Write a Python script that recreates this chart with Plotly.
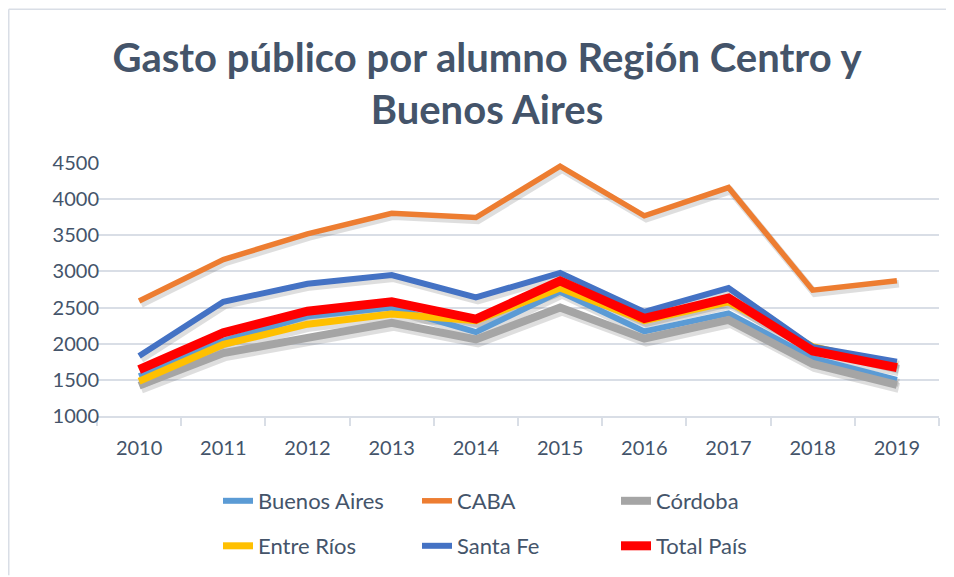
import plotly.graph_objects as go

years = ["2010", "2011", "2012", "2013", "2014", "2015", "2016", "2017", "2018", "2019"]

buenos_aires = [1550, 2040, 2380, 2500, 2160, 2720, 2170, 2420, 1800, 1500]
caba = [2590, 3165, 3520, 3805, 3745, 4455, 3770, 4160, 2740, 2870]
cordoba = [1420, 1870, 2080, 2290, 2060, 2500, 2070, 2330, 1720, 1430]
entre_rios = [1480, 1990, 2270, 2410, 2320, 2770, 2320, 2580, 1960, 1690]
santa_fe = [1830, 2580, 2830, 2950, 2640, 2980, 2440, 2770, 1955, 1750]
total_pais = [1640, 2150, 2450, 2580, 2340, 2870, 2350, 2630, 1900, 1670]

series = [
    ("Buenos Aires", buenos_aires, "#5B9BD5", 6, "legend"),
    ("CABA", caba, "#ED7D31", 5.5, "legend"),
    ("Córdoba", cordoba, "#A5A5A5", 8, "legend"),
    ("Entre Ríos", entre_rios, "#FFC000", 7, "legend2"),
    ("Santa Fe", santa_fe, "#4472C4", 6, "legend2"),
    ("Total País", total_pais, "#FF0000", 9, "legend2"),
]

TEXT = "#44546A"
GRID = "#D9DEE6"
FONT = "Lato"
OFF = 8  # page body margin
W, H = 954 - OFF, 577 - OFF
L, R, T, B = 97 - OFF, 15, 163 - OFF, 160
PW, PH = W - L - R, H - T - B
YMIN, YMAX = 1000, 4500
N = len(years)

# shadow offset (pixels) expressed in axis units
SH_DX, SH_DY = 2, 3
dx = SH_DX * N / PW
dy = SH_DY * (YMAX - YMIN) / PH


def px_x(p):
    return (p - OFF - L) / PW


def px_y(p):
    return (H - B - (p - OFF)) / PH


fig = go.Figure()
# shadows (subplot 2)
for name, vals, color, width, leg in series:
    fig.add_trace(go.Scatter(
        x=years, y=vals, mode="lines", showlegend=False, hoverinfo="skip",
        line=dict(color="rgba(0,0,0,0.13)", width=width + 2),
        xaxis="x2", yaxis="y2",
    ))
# real lines (subplot 3)
for name, vals, color, width, leg in series:
    fig.add_trace(go.Scatter(
        x=years, y=vals, name=name, mode="lines",
        line=dict(color=color, width=width),
        legend=leg, xaxis="x3", yaxis="y3",
    ))
# invisible trace on the main axes so they render
fig.add_trace(go.Scatter(x=years, y=[None] * N, showlegend=False, hoverinfo="skip"))

hidden = dict(visible=False, showgrid=False, zeroline=False)

fig.update_layout(
    width=W, height=H,
    margin=dict(l=L, r=R, t=T, b=B),
    paper_bgcolor="white", plot_bgcolor="white",
    font=dict(family=FONT, color=TEXT, size=20),
    title=dict(
        text="<b>Gasto público por alumno Región Centro y<br>Buenos Aires</b>",
        x=(487 - OFF) / W, xanchor="center", xref="container",
        y=1 - (72 - OFF) / H, yanchor="middle", yref="container",
        font=dict(family=FONT, size=40, color=TEXT),
    ),
    xaxis=dict(
        type="category", tickson="boundaries", ticks="outside", ticklen=8,
        tickcolor=GRID, tickwidth=1.5,
        showline=True, linecolor=GRID, linewidth=1.5,
        showgrid=False, tickfont=dict(size=20, color=TEXT),
        range=[-0.5, N - 0.5], ticklabelstandoff=13,
    ),
    yaxis=dict(
        range=[YMIN, YMAX], tickvals=[1000, 1500, 2000, 2500, 3000, 3500, 4000, 4500],
        showgrid=True, gridcolor=GRID, gridwidth=1.5,
        zeroline=False, showline=False, ticks="",
        ticklabelstandoff=-3, tickfont=dict(size=20, color=TEXT),
    ),
    xaxis2=dict(type="category", range=[-0.5 - dx, N - 0.5 - dx], anchor="y2", overlaying="x", **hidden),
    yaxis2=dict(range=[YMIN + dy, YMAX + dy], anchor="x2", overlaying="y", **hidden),
    xaxis3=dict(type="category", range=[-0.5, N - 0.5], anchor="y3", overlaying="x", **hidden),
    yaxis3=dict(range=[YMIN, YMAX], anchor="x3", overlaying="y", **hidden),
    legend=dict(
        orientation="h", x=px_x(218), y=px_y(501), xanchor="left", yanchor="middle",
        entrywidth=154, entrywidthmode="pixels",
        font=dict(size=22, color=TEXT), bgcolor="rgba(0,0,0,0)",
    ),
    legend2=dict(
        orientation="h", x=px_x(218), y=px_y(546), xanchor="left", yanchor="middle",
        entrywidth=154, entrywidthmode="pixels",
        font=dict(size=22, color=TEXT), bgcolor="rgba(0,0,0,0)",
    ),
    shapes=[
        dict(type="line", xref="paper", yref="paper",
             x0=px_x(OFF + 0.75), x1=px_x(954), y0=px_y(OFF + 0.75), y1=px_y(OFF + 0.75),
             line=dict(color=GRID, width=1.5), layer="below"),
        dict(type="line", xref="paper", yref="paper",
             x0=px_x(OFF + 0.75), x1=px_x(OFF + 0.75), y0=px_y(577), y1=px_y(OFF + 0.75),
             line=dict(color=GRID, width=1.5), layer="below"),
    ],
)

fig.write_html("out.html")
